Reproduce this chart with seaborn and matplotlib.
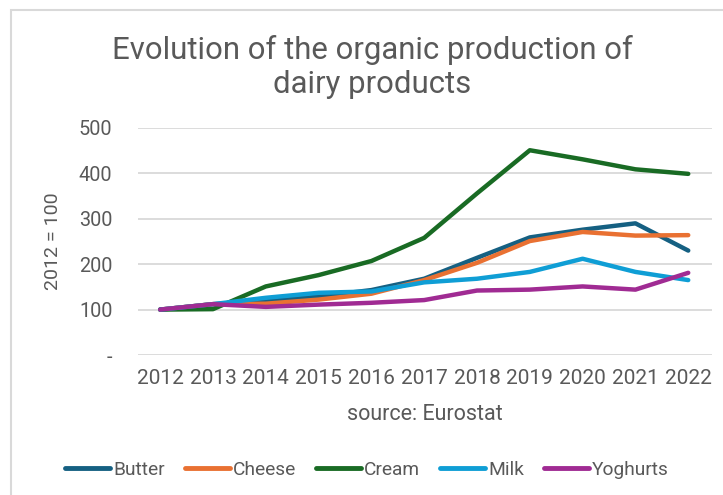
import matplotlib
matplotlib.use("Agg")
import matplotlib.pyplot as plt
import matplotlib.patches as mpatches
import seaborn as sns
import pandas as pd

years = ["2012", "2013", "2014", "2015", "2016", "2017", "2018", "2019", "2020", "2021", "2022"]
butter = [100, 112, 118, 129, 143, 168, 214, 259, 276, 290, 230]
cheese = [100, 112, 113, 122, 135, 165, 203, 251, 271, 263, 264]
cream = [100, 101, 151, 176, 207, 258, 356, 451, 431, 409, 399]
milk = [100, 112, 126, 137, 140, 160, 168, 183, 212, 183, 165]
yoghurts = [100, 112, 106, 111, 115, 121, 142, 144, 151, 144, 181]

products = ["Butter", "Cheese", "Cream", "Milk", "Yoghurts"]
series = [butter, cheese, cream, milk, yoghurts]
colors = ["#156082", "#E97132", "#196B24", "#0F9ED5", "#A02B93"]

rows = []
for name, vals in zip(products, series):
    for i, (y, v) in enumerate(zip(years, vals)):
        rows.append({"pos": i, "year": y, "product": name, "index": v})
df = pd.DataFrame(rows)

sns.set_theme(style="white")
plt.rcParams["font.family"] = ["Roboto", "DejaVu Sans"]
text_color = "#595959"

fig = plt.figure(figsize=(7.23, 4.95), dpi=100)
ax = fig.add_axes([138 / 723, 1 - 355 / 495, (712 - 138) / 723, (355 - 128) / 495])

sns.lineplot(data=df, x="pos", y="index", hue="product", hue_order=products,
             palette=colors, linewidth=3.2, ax=ax, legend=False,
             solid_capstyle="round", solid_joinstyle="round")

ax.set_ylim(0, 500)
ax.set_xlim(-0.42, 10.45)
ax.set_yticks([0, 100, 200, 300, 400, 500])
ax.set_yticklabels(["-", "100", "200", "300", "400", "500"])
ax.set_xticks(range(len(years)))
ax.set_xticklabels(years)
ax.grid(axis="y", color="#D9D9D9", linewidth=1.3)
ax.set_axisbelow(True)
for s in ax.spines.values():
    s.set_visible(False)
ax.tick_params(axis="both", length=0, colors=text_color)
ax.tick_params(axis="y", pad=18.5, labelsize=14.3)
ax.tick_params(axis="x", pad=10, labelsize=15)

ax.set_xlabel("source: Eurostat", fontsize=15.5, color=text_color, va="top")
ax.xaxis.set_label_coords(0.5, -0.216)
ax.set_ylabel("2012 = 100", fontsize=14, color=text_color)
ax.yaxis.set_label_coords(-0.132, 0.5)

fig.text(372 / 723, 1 - 67 / 495, "Evolution of the organic production of\ndairy products",
         ha="center", va="center", fontsize=22.4, color=text_color, linespacing=1.2)

handles = [plt.Line2D([], [], color=c, linewidth=3.5, solid_capstyle="round") for c in colors]
fig.legend(handles, products, loc="center", bbox_to_anchor=(367 / 723, 1 - 470 / 495),
           ncol=5, frameon=False, fontsize=13.8, handlelength=2.35, handletextpad=0.15,
           columnspacing=1.05, labelcolor=text_color)

border = mpatches.Rectangle((11 / 723, -0.1), 1.2, 1 - 10 / 495 + 0.1,
                            transform=fig.transFigure, fill=False,
                            edgecolor="#D9D9D9", linewidth=1.5)
fig.patches.append(border)

fig.savefig("out.png", dpi=100)
